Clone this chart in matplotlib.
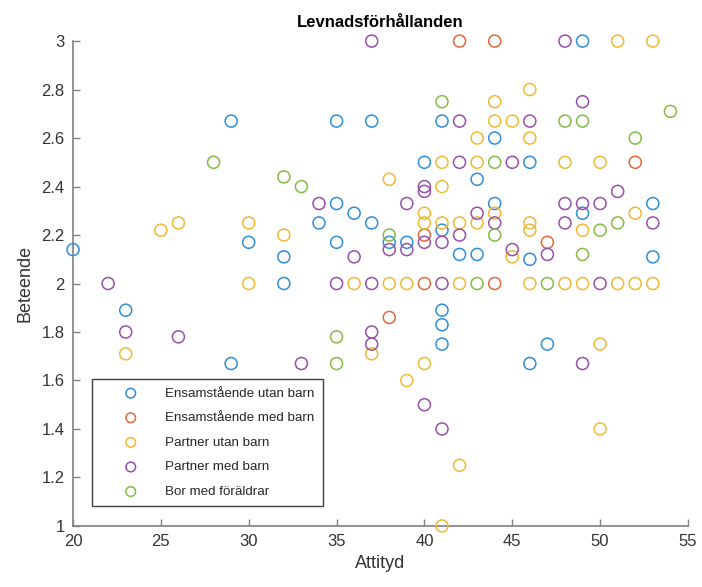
import matplotlib
matplotlib.use("Agg")
import matplotlib.pyplot as plt

plt.rcParams['font.family'] = ['Liberation Sans', 'DejaVu Sans']

labels = ["Ensamstående utan barn", "Ensamstående med barn", "Partner utan barn",
          "Partner med barn", "Bor med föräldrar"]
colors = ["#2E8FD8", "#E2683A", "#F0B935", "#9550AB", "#85BB45"]

# Ensamstående utan barn
x_eub = [20, 23, 29, 29, 30, 32, 32, 34, 35, 35, 35, 36, 37, 37, 38, 39, 40, 41, 41, 41, 41, 41,
         42, 43, 43, 44, 44, 46, 46, 46, 47, 49, 49, 53, 53]
y_eub = [2.14, 1.89, 1.67, 2.67, 2.17, 2.11, 2.0, 2.25, 2.67, 2.33, 2.17, 2.29, 2.67, 2.25, 2.17,
         2.17, 2.5, 2.67, 2.22, 1.89, 1.83, 1.75, 2.12, 2.43, 2.12, 2.6, 2.33, 2.5, 2.1, 1.67,
         1.75, 3.0, 2.29, 2.33, 2.11]

# Ensamstående med barn
x_emb = [38, 40, 40, 42, 44, 44, 47, 52]
y_emb = [1.86, 2.2, 2.0, 3.0, 3.0, 2.0, 2.17, 2.5]

# Partner utan barn
x_pub = [23, 25, 26, 30, 30, 32, 36, 37, 38, 38, 39, 39, 40, 40, 40, 41, 41, 41, 41, 42, 42, 42,
         43, 43, 43, 44, 44, 44, 45, 45, 46, 46, 46, 46, 46, 48, 48, 49, 49, 50, 50, 50, 51, 51,
         52, 52, 53, 53]
y_pub = [1.71, 2.22, 2.25, 2.25, 2.0, 2.2, 2.0, 1.71, 2.43, 2.0, 2.0, 1.6, 2.29, 2.25, 1.67, 2.5,
         2.4, 2.25, 1.0, 2.25, 2.0, 1.25, 2.6, 2.5, 2.25, 2.75, 2.67, 2.29, 2.67, 2.11, 2.8, 2.6,
         2.25, 2.22, 2.0, 2.5, 2.0, 2.22, 2.0, 2.5, 1.75, 1.4, 3.0, 2.0, 2.29, 2.0, 3.0, 2.0]

# Partner med barn
x_pmb = [22, 23, 26, 33, 34, 35, 36, 37, 37, 37, 37, 38, 39, 39, 40, 40, 40, 40, 41, 41, 41, 42,
         42, 42, 43, 44, 45, 45, 46, 47, 48, 48, 48, 49, 49, 49, 50, 50, 51, 53]
y_pmb = [2.0, 1.8, 1.78, 1.67, 2.33, 2.0, 2.11, 3.0, 2.0, 1.8, 1.75, 2.14, 2.33, 2.14, 2.4, 2.38,
         2.17, 1.5, 2.17, 2.0, 1.4, 2.67, 2.5, 2.2, 2.29, 2.25, 2.5, 2.14, 2.67, 2.12, 3.0, 2.33,
         2.25, 2.75, 2.33, 1.67, 2.33, 2.0, 2.38, 2.25]

# Bor med föräldrar
x_bmf = [28, 32, 33, 35, 35, 38, 41, 43, 44, 44, 47, 48, 49, 49, 50, 51, 52, 54]
y_bmf = [2.5, 2.44, 2.4, 1.78, 1.67, 2.2, 2.75, 2.0, 2.5, 2.2, 2.0, 2.67, 2.67, 2.12, 2.22, 2.25,
         2.6, 2.71]

groups = [(x_eub, y_eub), (x_emb, y_emb), (x_pub, y_pub), (x_pmb, y_pmb), (x_bmf, y_bmf)]

fig = plt.figure(figsize=(7.02, 5.87), dpi=100)
ax = fig.add_axes([0.104, 0.104, 0.876, 0.826])

for (xs, ys), c, lab in zip(groups, colors, labels):
    ax.scatter(xs, ys, s=75, facecolors='none', edgecolors=c, linewidths=1.1,
               label=lab, clip_on=False, zorder=3)

ax.set_xlim(20, 55)
ax.set_ylim(1, 3)
ax.set_xticks(range(20, 56, 5))
ax.set_yticks([1, 1.2, 1.4, 1.6, 1.8, 2, 2.2, 2.4, 2.6, 2.8, 3])
ax.set_yticklabels(["1", "1.2", "1.4", "1.6", "1.8", "2", "2.2", "2.4", "2.6", "2.8", "3"])

for s in ['top', 'right']:
    ax.spines[s].set_visible(False)
for s in ['left', 'bottom']:
    ax.spines[s].set_color('#808080')
    ax.spines[s].set_linewidth(1.2)
ax.tick_params(direction='in', length=5, width=1, color='#808080', labelsize=12,
               labelcolor='#333333')
ax.tick_params(axis='x', pad=6)
ax.tick_params(axis='y', pad=6)

ax.set_xlabel("Attityd", fontsize=13, color='#333333', labelpad=4)
ax.set_ylabel("Beteende", fontsize=13, color='#333333', labelpad=6)
ax.set_title("Levnadsförhållanden", fontsize=12, fontweight='bold', pad=10)

leg = ax.legend(loc='lower left', bbox_to_anchor=(0.031, 0.041), borderaxespad=0,
                fontsize=9.6, fancybox=False, framealpha=1, edgecolor='#404040',
                handletextpad=0.3, borderpad=0.6, labelspacing=0.92, handlelength=4.6,
                scatterpoints=1, markerscale=0.8)
leg.get_frame().set_linewidth(1.0)
for t in leg.get_texts():
    t.set_color('#262626')

fig.savefig("out.png", dpi=100)
